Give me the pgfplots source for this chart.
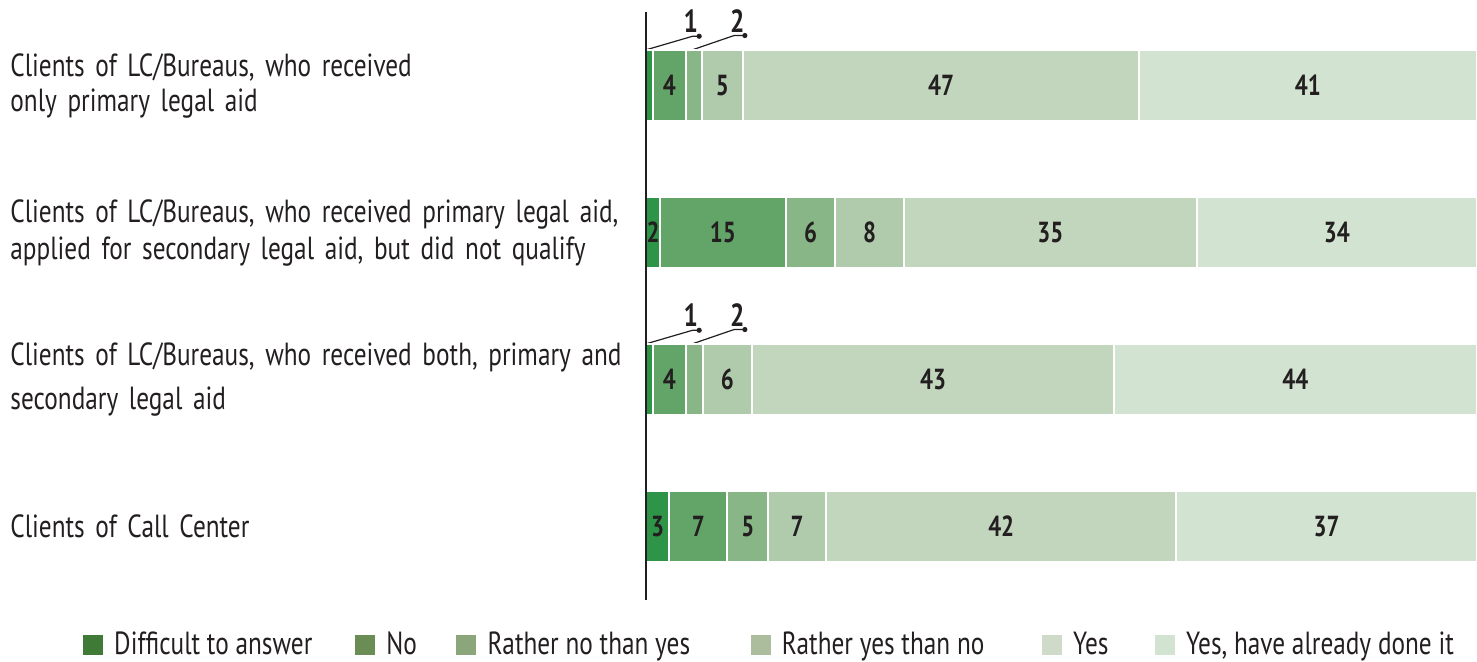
\documentclass[border=0pt]{standalone}
\usepackage{fontspec}
\setmainfont[FakeStretch=0.79]{PT Sans}
\usepackage{pgfplots}
\pgfplotsset{compat=1.18}
\definecolor{txt}{HTML}{231F20}
\definecolor{bD}{HTML}{2E9448}
\definecolor{bNo}{HTML}{63A468}
\definecolor{bRno}{HTML}{88B686}
\definecolor{bRyes}{HTML}{B0CBAC}
\definecolor{bYes}{HTML}{C2D6BE}
\definecolor{bYd}{HTML}{D3E3D1}
\definecolor{lD}{HTML}{3F7A37}
\definecolor{lNo}{HTML}{6A8D56}
\definecolor{lRno}{HTML}{8BA67A}
\definecolor{lRyes}{HTML}{ACBD9E}
\definecolor{lYes}{HTML}{D0DAC8}
\definecolor{lYd}{HTML}{D2E3D1}
\newcommand\lab{\fontsize{16}{17.5}\selectfont}
\newcommand\num{\bfseries\fontsize{14.5}{16}\selectfont}
\newcommand\ann{\bfseries\fontsize{16}{18}\selectfont}
\begin{document}
\begin{tikzpicture}
\begin{axis}[
  scale only axis, width=415.5pt, height=294pt,
  xbar stacked, bar width=35.5pt,
  xmin=0, xmax=100, ymin=-0.5, ymax=3.5, y dir=reverse,
  axis x line=none, axis y line*=left,
  axis line style={line width=1pt, color=txt},
  ytick={0,1,2,3}, major tick length=0pt,
  yticklabels={{Clients of LC/Bureaus, who received\\only primary legal aid},
               {Clients of LC/Bureaus, who received primary legal aid,\\[1pt]applied for secondary legal aid, but did not qualify},
               {Clients of LC/Bureaus, who received both, primary and\\[4.5pt]secondary legal aid},
               {Clients of Call Center}},
  yticklabel style={anchor=west, xshift=-318pt, text width=315pt, align=left, inner sep=0pt, font=\lab, text=txt},
  clip=false, axis on top,
  nodes near coords, point meta=explicit symbolic,
  every node near coord/.append style={font=\num, text=txt},
  legend columns=6,
  legend style={at={(-0.6779,-0.0765)}, anchor=west, draw=none, fill=none, inner sep=0pt,
    font=\lab, text=txt, nodes={inner sep=0pt},
    /tikz/every odd column/.append style={column sep=5.6pt},
    /tikz/every even column/.append style={column sep=0pt}},
]
\addplot[fill=bD, draw=white, line width=1pt,
  legend image code/.code={\fill[lD] (0pt,-4.5pt) rectangle (9pt,4.5pt);}]
  coordinates {(0.8,0)[\relax] (1.7,1)[2] (0.8,2)[\relax] (2.8,3)[3]};
\addlegendentry{\makebox[120.5pt][l]{Difficult to answer}}
\addplot[fill=bNo, draw=white, line width=1pt,
  legend image code/.code={\fill[lNo] (0pt,-4.5pt) rectangle (9pt,4.5pt);}]
  coordinates {(4,0)[4] (15.1,1)[15] (4,2)[4] (7,3)[7]};
\addlegendentry{\makebox[35pt][l]{No}}
\addplot[fill=bRno, draw=white, line width=1pt,
  legend image code/.code={\fill[lRno] (0pt,-4.5pt) rectangle (9pt,4.5pt);}]
  coordinates {(1.9,0)[\relax] (6,1)[6] (2,2)[\relax] (4.9,3)[5]};
\addlegendentry{\makebox[131.5pt][l]{Rather no than yes}}
\addplot[fill=bRyes, draw=white, line width=1pt,
  legend image code/.code={\fill[lRyes] (0pt,-4.5pt) rectangle (9pt,4.5pt);}]
  coordinates {(5,0)[5] (8.2,1)[8] (6,2)[6] (7,3)[7]};
\addlegendentry{\makebox[130pt][l]{Rather yes than no}}
\addplot[fill=bYes, draw=white, line width=1pt,
  legend image code/.code={\fill[lYes] (0pt,-4.5pt) rectangle (9pt,4.5pt);}]
  coordinates {(47.6,0)[47] (35.3,1)[35] (43.5,2)[43] (42.1,3)[42]};
\addlegendentry{\makebox[41pt][l]{Yes}}
\addplot[fill=bYd, draw=white, line width=1pt,
  legend image code/.code={\fill[lYd] (0pt,-4.5pt) rectangle (9pt,4.5pt);}]
  coordinates {(40.7,0)[41] (33.7,1)[34] (43.7,2)[44] (36.2,3)[37]};
\addlegendentry{Yes, have already done it}
% leader annotations for the small segments
\pgfplotsinvokeforeach{0,2}{
  \draw[txt, line width=0.6pt] (axis cs:0.15,#1-0.245) -- (axis cs:5.6,#1-0.335) -- (axis cs:6.4,#1-0.335);
  \fill[txt] (axis cs:6.4,#1-0.335) circle (1.3pt);
  \node[font=\ann, text=txt, inner sep=0pt] at (axis cs:5.4,#1-0.435) {1};
  \draw[txt, line width=0.6pt] (axis cs:5.7,#1-0.245) -- (axis cs:10.6,#1-0.34) -- (axis cs:11.9,#1-0.34);
  \fill[txt] (axis cs:11.9,#1-0.34) circle (1.3pt);
  \node[font=\ann, text=txt, inner sep=0pt] at (axis cs:11.0,#1-0.435) {2};
}
\end{axis}
\pgfresetboundingbox
\path (-323pt,-31pt) rectangle (415.5pt,300pt);
\end{tikzpicture}
\end{document}
